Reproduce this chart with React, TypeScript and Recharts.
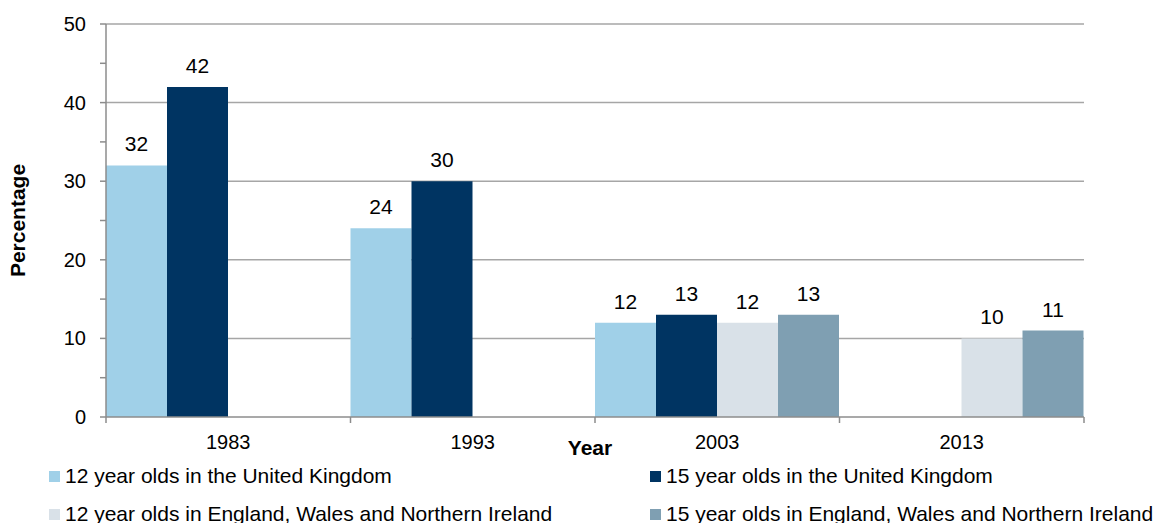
import { BarChart, Bar, XAxis, YAxis, CartesianGrid, LabelList } from 'recharts';

const years = ['1983', '1993', '2003', '2013'];
const uk12 = [32, 24, 12, null];
const uk15 = [42, 30, 13, null];
const ewni12 = [null, null, 12, 10];
const ewni15 = [null, null, 13, 11];
const yTicks = [0, 5, 10, 15, 20, 25, 30, 35, 40, 45, 50];

const series = [
  { key: 'uk12', name: '12 year olds in the United Kingdom', color: '#A0D0E8', values: uk12 },
  { key: 'uk15', name: '15 year olds in the United Kingdom', color: '#003462', values: uk15 },
  { key: 'ewni12', name: '12 year olds in England, Wales and Northern Ireland', color: '#D9E1E8', values: ewni12 },
  { key: 'ewni15', name: '15 year olds in England, Wales and Northern Ireland', color: '#7F9FB2', values: ewni15 },
];

const data = years.map((year, i) => {
  const row: Record<string, string | number | null> = { year };
  series.forEach((s) => (row[s.key] = s.values[i]));
  return row;
});

const FONT = '"Liberation Sans", Arial, sans-serif';
const W = 1168;
const H = 460;
const PLOT_LEFT = 106;
const PLOT_RIGHT = 1084;
const PLOT_TOP = 24;
const PLOT_BOTTOM = 417;
const HALF_BAND = (PLOT_RIGHT - PLOT_LEFT) / years.length / 2;
const AXIS = '#8C8C8C';
const FS = 20;

function XTick(props: any) {
  const { x, payload, index } = props;
  const last = index === years.length - 1;
  return (
    <g>
      <line x1={x - HALF_BAND} x2={x - HALF_BAND} y1={PLOT_BOTTOM} y2={PLOT_BOTTOM + 6} stroke={AXIS} strokeWidth={1.5} />
      {last && (
        <line x1={x + HALF_BAND} x2={x + HALF_BAND} y1={PLOT_BOTTOM} y2={PLOT_BOTTOM + 6} stroke={AXIS} strokeWidth={1.5} />
      )}
      <text x={x} y={PLOT_BOTTOM + 32} textAnchor="middle" fontSize={FS} fill="#000" fontFamily={FONT}>
        {payload.value}
      </text>
    </g>
  );
}

function YTick(props: any) {
  const { x, y, payload } = props;
  if (payload.value % 10 !== 0) return <g />;
  return (
    <text x={x} y={y} dy={7} textAnchor="end" fontSize={FS} fill="#000" fontFamily={FONT}>
      {payload.value}
    </text>
  );
}

export default function App() {
  return (
    <div style={{ position: 'absolute', left: 0, top: 0, width: W, height: 523, background: '#fff', fontFamily: FONT }}>
      <BarChart
        width={W}
        height={H}
        data={data}
        margin={{ top: PLOT_TOP, right: W - PLOT_RIGHT, left: 0, bottom: H - PLOT_BOTTOM - 40 }}
        barCategoryGap={0}
        barGap={0}
      >
        <CartesianGrid vertical={false} horizontalValues={[10, 20, 30, 40, 50]} stroke="#A6A6A6" strokeWidth={1.5} />
        <XAxis
          dataKey="year"
          height={40}
          axisLine={{ stroke: AXIS, strokeWidth: 1.5 }}
          tickLine={false}
          tick={<XTick />}
          interval={0}
          label={{ value: 'Year', position: 'insideBottom', offset: 2, dx: -5, fontSize: 21, fontWeight: 'bold', fill: '#000', fontFamily: FONT }}
        />
        <YAxis
          width={PLOT_LEFT}
          domain={[0, 50]}
          ticks={yTicks}
          interval={0}
          tickSize={6}
          tickMargin={14}
          axisLine={{ stroke: AXIS, strokeWidth: 1.5 }}
          tickLine={{ stroke: AXIS, strokeWidth: 1.5 }}
          tick={<YTick />}
          label={{ value: 'Percentage', angle: -90, position: 'insideLeft', offset: 18, fontSize: 21, fontWeight: 'bold', fill: '#000', fontFamily: FONT, style: { textAnchor: 'middle' } }}
        />
        {series.map((s) => (
          <Bar key={s.key} dataKey={s.key} name={s.name} fill={s.color} isAnimationActive={false}>
            <LabelList
              dataKey={s.key}
              position="top"
              offset={14}
              fontSize={21}
              fill="#000"
              fontFamily={FONT}
              formatter={(v: any) => (v == null ? '' : v)}
            />
          </Bar>
        ))}
      </BarChart>
      {series.map((s, i) => (
        <div
          key={s.key}
          style={{
            position: 'absolute',
            left: i % 2 === 0 ? 49 : 650,
            top: (i < 2 ? 476 : 514) - 12,
            height: 24,
            display: 'flex',
            alignItems: 'center',
            whiteSpace: 'nowrap',
            fontSize: 21,
            color: '#000',
          }}
        >
          <span style={{ width: 11, height: 11, background: s.color, marginRight: 5, display: 'inline-block' }} />
          {s.name}
        </div>
      ))}
    </div>
  );
}
